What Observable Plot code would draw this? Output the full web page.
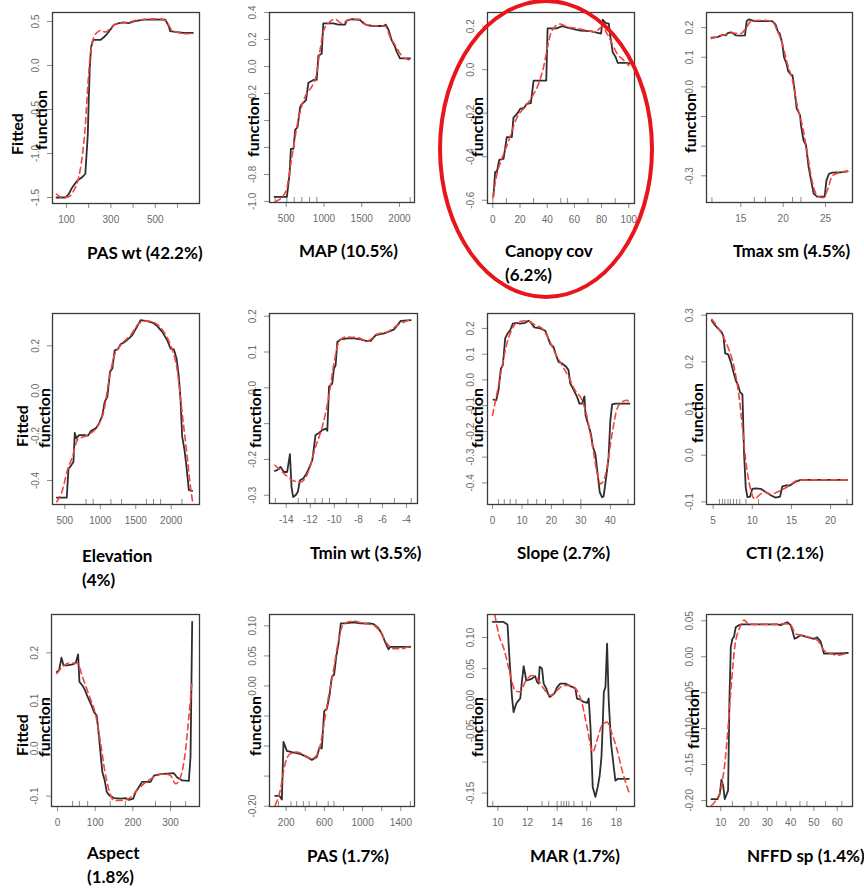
<!DOCTYPE html>
<html>
<head>
<meta charset="utf-8">
<script src="https://cdn.jsdelivr.net/npm/d3@7"></script>
<script src="https://cdn.jsdelivr.net/npm/@observablehq/plot@0.6"></script>
<style>
  html, body { margin: 0; padding: 0; background: #fff; }
  #root { position: relative; width: 864px; height: 888px; overflow: hidden; background: #fff; }
  .panel { position: absolute; }
  .xtitle { position: absolute; font: bold 17px Lato, "Open Sans", sans-serif; color: #000; white-space: nowrap; line-height: 1; transform: translateY(-50%); }
  .ytitle { position: absolute; font: bold 16px Lato, "Open Sans", sans-serif; color: #000; white-space: nowrap; line-height: 1; transform: translate(-50%, -50%) rotate(-90deg); }
  .ring { position: absolute; border: 4px solid #e8161b; border-radius: 50%; box-sizing: border-box; }
</style>
</head>
<body>
<div id="root"></div>
<script>
// ---------- DATA ----------
// PAS wt
const pasWtFit = [[55,-1.5],[95,-1.5],[110,-1.46],[125,-1.39],[148,-1.31],[170,-1.27],[185,-1.23],[196,-0.78],[200,-0.40],[205,-0.02],[211,0.21],[220,0.29],[253,0.29],[268,0.32],[283,0.36],[298,0.41],[313,0.46],[335,0.48],[358,0.49],[380,0.48],[403,0.50],[448,0.52],[508,0.52],[545,0.52],[560,0.45],[567,0.39],[597,0.38],[627,0.37],[669,0.37]];
const pasWtSmooth = [[55,-1.46],[80,-1.5],[110,-1.49],[133,-1.42],[155,-1.27],[170,-1.05],[185,-0.68],[196,-0.23],[208,0.14],[223,0.32],[240,0.38],[253,0.40],[275,0.38],[298,0.42],[320,0.47],[373,0.49],[433,0.52],[523,0.53],[553,0.49],[575,0.40],[612,0.37],[642,0.36],[669,0.37]];
const pasWtRug = [];
// MAP
const mapFit = [[346,-0.966],[509,-0.966],[544,-0.80],[562,-0.61],[597,-0.61],[619,-0.47],[650,-0.45],[685,-0.30],[707,-0.28],[763,-0.25],[794,-0.12],[860,-0.10],[904,-0.10],[926,0.08],[970,0.095],[992,0.32],[1036,0.32],[1125,0.32],[1191,0.31],[1279,0.31],[1301,0.34],[1367,0.35],[1478,0.345],[1522,0.32],[1566,0.307],[1654,0.30],[1787,0.30],[1818,0.31],[1853,0.275],[1897,0.195],[1941,0.145],[1963,0.11],[2007,0.06],[2140,0.06]];
const mapSmooth = [[354,-1.0],[443,-0.97],[509,-0.9],[553,-0.75],[597,-0.60],[650,-0.42],[707,-0.29],[772,-0.20],[839,-0.15],[904,-0.05],[948,0.12],[992,0.26],[1058,0.32],[1147,0.35],[1235,0.32],[1345,0.35],[1478,0.35],[1566,0.307],[1698,0.30],[1809,0.30],[1875,0.22],[1941,0.16],[2029,0.08],[2140,0.047]];
const mapRug = [354,509,606,707,809,906,2142];
// Canopy cov
const canopyFit = [[0.5,-0.58],[1.7,-0.47],[3,-0.47],[4.7,-0.415],[7.9,-0.41],[10.3,-0.31],[14,-0.31],[15.2,-0.22],[18.2,-0.20],[20.1,-0.18],[23,-0.175],[25,-0.157],[28,-0.154],[30,-0.05],[34.9,-0.05],[39.3,-0.05],[40.3,0.19],[47,0.19],[50.9,0.20],[57,0.19],[64.4,0.18],[71.7,0.177],[79.6,0.166],[80.8,0.23],[82.8,0.215],[85.3,0.212],[86.5,0.15],[88.2,0.08],[90.2,0.06],[91.9,0.031],[98.8,0.031],[100.7,0.028]];
const canopySmooth = [[0,-0.59],[3,-0.48],[6.6,-0.41],[11.5,-0.33],[17.7,-0.22],[23.8,-0.17],[28.7,-0.126],[33.7,-0.064],[37.3,0.012],[40.3,0.105],[43.5,0.18],[49.6,0.21],[54.5,0.197],[62,0.19],[69.3,0.18],[75.4,0.174],[80.3,0.197],[84,0.166],[87.7,0.12],[91.4,0.074],[96.3,0.043],[100,0.02]];
const canopyRug = [0,10,30,50,55,70,90];
// Tmax sm
const tmaxFit = [[11.55,0.166],[12.26,0.168],[12.85,0.176],[13.24,0.174],[13.5,0.182],[13.9,0.184],[14.4,0.174],[15,0.173],[15.5,0.174],[15.7,0.222],[16,0.228],[16.6,0.222],[17.7,0.222],[18.7,0.222],[19.1,0.211],[19.4,0.185],[19.6,0.18],[19.9,0.146],[20.1,0.10],[20.4,0.078],[20.6,0.053],[20.9,0.042],[21.1,0.039],[21.3,0.0],[21.6,-0.073],[22.0,-0.096],[22.1,-0.13],[22.4,-0.18],[22.7,-0.197],[23.0,-0.27],[23.3,-0.316],[23.6,-0.36],[24.0,-0.37],[24.9,-0.37],[25.1,-0.316],[25.4,-0.293],[25.8,-0.289],[26.8,-0.288],[27.6,-0.285]];
const tmaxSmooth = [[11.55,0.163],[12.85,0.174],[13.9,0.182],[15,0.18],[15.7,0.202],[16.2,0.222],[17.7,0.225],[18.7,0.221],[19.3,0.19],[19.9,0.146],[20.5,0.078],[21.1,0.022],[21.7,-0.068],[22.3,-0.135],[22.8,-0.214],[23.4,-0.316],[24.0,-0.366],[24.7,-0.374],[25.2,-0.35],[25.8,-0.30],[26.8,-0.288],[27.6,-0.284]];
const tmaxRug = [11.6,16.6,17.9,21.1,22.1];
// Elevation
const elevFit = [[388,-0.476],[528,-0.476],[552,-0.347],[584,-0.336],[622,-0.317],[641,-0.188],[664,-0.213],[701,-0.198],[772,-0.198],[828,-0.20],[866,-0.18],[936,-0.168],[983,-0.146],[1030,-0.109],[1062,-0.05],[1100,-0.027],[1137,0.084],[1170,0.099],[1203,0.18],[1250,0.185],[1287,0.207],[1334,0.215],[1404,0.233],[1451,0.248],[1512,0.282],[1568,0.314],[1662,0.31],[1746,0.302],[1803,0.288],[1873,0.262],[1943,0.225],[1990,0.188],[2037,0.184],[2075,0.144],[2107,0.062],[2131,-0.042],[2154,-0.205],[2187,-0.265],[2215,-0.34],[2248,-0.443],[2295,-0.446]];
const elevSmooth = [[388,-0.495],[467,-0.443],[537,-0.354],[608,-0.295],[678,-0.22],[819,-0.198],[959,-0.16],[1053,-0.087],[1123,0.047],[1193,0.151],[1287,0.203],[1428,0.248],[1545,0.30],[1662,0.311],[1779,0.30],[1896,0.262],[1990,0.203],[2084,0.092],[2154,-0.10],[2225,-0.295],[2271,-0.428],[2304,-0.50]];
const elevRug = [800,900,1150,1300,1650,1750,1850,2150];
// Tmin wt
const tminFit = [[-14.94,-0.232],[-14.75,-0.23],[-14.47,-0.221],[-14.19,-0.235],[-13.92,-0.235],[-13.69,-0.185],[-13.56,-0.277],[-13.42,-0.305],[-13.22,-0.30],[-13.03,-0.29],[-12.86,-0.258],[-12.58,-0.253],[-12.31,-0.239],[-12.11,-0.225],[-11.83,-0.202],[-11.56,-0.132],[-11.28,-0.126],[-11.0,-0.118],[-10.72,-0.114],[-10.58,-0.12],[-10.44,0.003],[-10.17,0.012],[-10.03,0.054],[-9.89,0.063],[-9.75,0.128],[-9.47,0.135],[-8.92,0.138],[-8.36,0.138],[-7.81,0.135],[-7.39,0.131],[-6.97,0.131],[-6.56,0.147],[-5.86,0.152],[-5.31,0.159],[-5.03,0.163],[-4.75,0.175],[-4.47,0.187],[-3.64,0.189]];
const tminSmooth = [[-14.94,-0.216],[-14.19,-0.239],[-13.5,-0.258],[-12.81,-0.263],[-12.11,-0.23],[-11.56,-0.165],[-11.0,-0.109],[-10.44,-0.021],[-10.03,0.068],[-9.61,0.128],[-9.06,0.142],[-8.08,0.14],[-7.25,0.131],[-6.42,0.15],[-5.58,0.156],[-4.75,0.175],[-3.64,0.191]];
const tminRug = [-14.9,-13.0,-12.3,-11.6,-11.0,-10.4,-9.0,-7.0,-5.0,-3.6];
// Slope
const slopeFit = [[0.34,-0.077],[1.25,-0.079],[2.04,-0.04],[2.83,0.044],[3.5,0.057],[4.3,0.161],[5.1,0.18],[6.0,0.193],[6.9,0.219],[8.0,0.222],[9.4,0.219],[11.1,0.222],[12.2,0.23],[12.8,0.226],[14.2,0.204],[16.2,0.20],[17.9,0.191],[18.7,0.168],[19.6,0.139],[20.7,0.129],[21.6,0.096],[22.4,0.07],[23.6,0.064],[25.0,0.051],[25.8,0.038],[26.4,-0.014],[27.5,-0.038],[28.7,-0.066],[29.5,-0.092],[30.4,-0.092],[31.2,-0.064],[31.6,-0.138],[32.6,-0.177],[33.4,-0.209],[34.1,-0.261],[34.9,-0.287],[35.7,-0.365],[36.4,-0.436],[37.2,-0.456],[37.7,-0.453],[38.6,-0.378],[39.4,-0.30],[40.0,-0.157],[40.6,-0.095],[41.7,-0.092],[44.0,-0.092],[46.5,-0.092]];
const slopeSmooth = [[0,-0.138],[1.5,-0.053],[3.2,0.05],[4.9,0.142],[6.6,0.196],[8.8,0.226],[11.7,0.23],[14.5,0.213],[16.8,0.2],[19.0,0.161],[21.3,0.103],[23.6,0.057],[25.8,0.012],[28.0,-0.04],[30.4,-0.079],[32.1,-0.144],[33.8,-0.248],[35.6,-0.365],[36.6,-0.404],[37.7,-0.391],[38.9,-0.339],[40.6,-0.209],[42.3,-0.112],[44.0,-0.086],[45.7,-0.079],[46.5,-0.092]];
const slopeRug = [2,4,6,8,12,15,18,24,30,46];
// CTI
const ctiFit = [[4.83,0.288],[5.21,0.279],[5.64,0.271],[6.06,0.264],[6.32,0.255],[6.53,0.218],[6.91,0.216],[7.25,0.20],[7.59,0.178],[7.89,0.16],[8.19,0.15],[8.44,0.135],[8.74,0.13],[8.95,0.003],[9.16,-0.069],[9.38,-0.09],[9.72,-0.089],[10.0,-0.072],[10.44,-0.071],[11.08,-0.072],[11.71,-0.079],[12.35,-0.086],[12.99,-0.091],[13.54,-0.089],[13.84,-0.067],[14.26,-0.065],[14.82,-0.065],[15.41,-0.058],[16.17,-0.053],[17.87,-0.053],[22.12,-0.053]];
const ctiSmooth = [[4.83,0.291],[5.55,0.275],[6.4,0.25],[7.04,0.225],[7.76,0.182],[8.31,0.125],[8.74,0.06],[9.16,-0.011],[9.72,-0.069],[10.31,-0.094],[10.86,-0.086],[11.59,-0.079],[12.44,-0.084],[13.2,-0.079],[14.05,-0.072],[14.9,-0.063],[15.75,-0.054],[17.0,-0.053],[22.12,-0.053]];
const ctiRug = [5.8,6.2,6.5,6.9,7.2,7.6,8.0,8.4,9.2,10.8,22.1];
// Aspect
const aspectFit = [[-1.8,0.160],[4.4,0.164],[10.6,0.190],[15.9,0.174],[26.5,0.174],[39.7,0.176],[48.5,0.179],[54.7,0.197],[58.2,0.139],[66.2,0.132],[72.4,0.123],[79.4,0.109],[88.2,0.094],[97.1,0.076],[104.1,0.069],[110.3,0.024],[114.7,-0.015],[119.1,-0.05],[125.3,-0.067],[130.6,-0.091],[136.8,-0.098],[150,-0.104],[167.6,-0.105],[180.9,-0.104],[189.7,-0.108],[201.2,-0.105],[207.4,-0.091],[213.5,-0.084],[225,-0.07],[238.2,-0.07],[247,-0.07],[255.9,-0.057],[273.5,-0.054],[291.2,-0.053],[308.8,-0.052],[317.6,-0.061],[330.9,-0.067],[348.5,-0.068],[353,-0.018],[357.4,0.265]];
const aspectSmooth = [[-1.8,0.157],[13.2,0.171],[30.9,0.179],[52.9,0.178],[66.2,0.15],[83.8,0.111],[101.5,0.069],[114.7,0.01],[125.3,-0.046],[136.8,-0.088],[150,-0.109],[167.6,-0.109],[189.7,-0.105],[207.4,-0.091],[229.4,-0.074],[255.9,-0.06],[282.4,-0.053],[300,-0.057],[313.2,-0.074],[326.5,-0.06],[339.7,-0.004],[348.5,0.066],[357.4,0.143]];
const aspectRug = [40,58,80,140,180,260,300,340];
// PAS
const pasFit = [[85,-0.183],[130,-0.183],[155,-0.189],[172,-0.093],[207,-0.108],[259,-0.11],[346,-0.113],[416,-0.118],[469,-0.123],[521,-0.118],[549,-0.102],[573,-0.104],[598,-0.042],[626,-0.038],[653,-0.016],[678,0.015],[702,0.019],[723,0.048],[748,0.071],[772,0.104],[817,0.104],[905,0.106],[975,0.104],[1079,0.104],[1114,0.103],[1166,0.096],[1201,0.087],[1236,0.073],[1271,0.061],[1288,0.065],[1341,0.065],[1498,0.065]];
const pasSmooth = [[85,-0.199],[137,-0.174],[190,-0.129],[242,-0.113],[312,-0.11],[399,-0.116],[469,-0.121],[538,-0.11],[591,-0.068],[643,-0.018],[695,0.026],[748,0.076],[800,0.103],[905,0.108],[1010,0.104],[1114,0.101],[1184,0.09],[1253,0.071],[1323,0.062],[1410,0.062],[1498,0.068]];
const pasRug = [120,250,310,380,440,520,640,700,1500];
// MAR
const marFit = [[9.66,0.125],[9.93,0.125],[10.38,0.125],[10.65,0.121],[10.79,0.064],[10.95,0.0045],[11.06,-0.02],[11.24,-0.006],[11.4,-0.001],[11.51,0.002],[11.62,0.029],[11.74,0.054],[11.92,0.031],[12.07,0.032],[12.3,0.034],[12.52,0.038],[12.64,0.029],[12.75,0.026],[12.82,0.053],[12.98,0.05],[13.09,0.026],[13.27,0.018],[13.36,0.011],[13.49,0.0045],[13.65,0.007],[13.81,0.01],[13.99,0.02],[14.21,0.026],[14.55,0.026],[14.89,0.022],[15.23,0.018],[15.34,0.0018],[15.57,0.0002],[15.79,-0.0035],[16.02,-0.005],[16.13,0.002],[16.25,-0.044],[16.4,-0.14],[16.58,-0.156],[16.74,-0.14],[16.87,-0.122],[16.99,-0.092],[17.08,-0.038],[17.15,0.0125],[17.26,0.0206],[17.37,0.09],[17.48,-0.001],[17.64,-0.071],[17.82,-0.108],[17.93,-0.13],[18.09,-0.127],[18.84,-0.127]];
const marSmooth = [[9.8,0.136],[10.05,0.106],[10.43,0.08],[10.79,0.045],[11.17,0.015],[11.51,0.0125],[11.85,0.029],[12.3,0.039],[12.64,0.034],[13.09,0.018],[13.54,0.007],[13.99,0.015],[14.44,0.023],[14.89,0.023],[15.34,0.015],[15.68,-0.006],[16.02,-0.044],[16.4,-0.084],[16.69,-0.065],[17.03,-0.041],[17.37,-0.036],[17.71,-0.055],[18.05,-0.081],[18.39,-0.114],[18.84,-0.148]];
const marRug = [9.66,12.98,13.43,14.0,14.27,14.45,14.63,14.79,15.13,15.69,16.25];
// NFFD sp
const nffdFit = [[6.0,-0.198],[8.57,-0.198],[9.57,-0.191],[10.29,-0.171],[11.0,-0.179],[11.7,-0.198],[12.57,-0.191],[13.14,-0.186],[13.7,-0.061],[14.3,0.0138],[15.0,0.025],[15.7,0.028],[16.4,0.041],[17.86,0.044],[19.3,0.045],[22.9,0.045],[30,0.045],[34.3,0.045],[35.7,0.044],[37.1,0.046],[38.6,0.048],[40,0.044],[40.7,0.037],[41.7,0.025],[42.9,0.027],[44.3,0.03],[46.4,0.028],[50,0.025],[51.4,0.027],[52.9,0.021],[54.3,0.0045],[55.7,0.0045],[61.4,0.0045],[64.6,0.0054]];
const nffdSmooth = [[6,-0.207],[7.86,-0.2],[10,-0.184],[11.7,-0.149],[13.14,-0.098],[14.57,-0.037],[16,0.0138],[17.86,0.038],[20,0.051],[22.14,0.045],[27.1,0.045],[32.9,0.045],[37.1,0.046],[40,0.044],[42.1,0.032],[44.3,0.03],[47.1,0.028],[51.4,0.023],[54.3,0.009],[57.1,0.0045],[60,0.0022],[64.6,0.0054]];
const nffdRug = [15,23,26,34,38,44,47,55,62];

// Axis titles (with the share of importance)
const titles = [["PAS wt (42.2%)"],["MAP (10.5%)"],["Canopy cov","(6.2%)"],["Tmax sm (4.5%)"],
                ["Elevation","(4%)"],["Tmin wt (3.5%)"],["Slope (2.7%)"],["CTI (2.1%)"],
                ["Aspect","(1.8%)"],["PAS (1.7%)"],["MAR (1.7%)"],["NFFD sp (1.4%)"]];

// Tick values (all ticks) and the tick labels that are visible
const xTicks = [[100,200,300,400,500,600],[500,1000,1500,2000],[0,20,40,60,80,100],[15,20,25],
                [500,1000,1500,2000],[-14,-12,-10,-8,-6,-4],[0,10,20,30,40],[5,10,15,20],
                [0,100,200,300],[200,400,600,800,1000,1200,1400],[10,12,14,16,18],[10,20,30,40,50,60]];
const xLabels = [[100,300,500],[500,1000,1500,2000],[0,20,40,60,80,100],[15,20,25],
                 [500,1000,1500,2000],[-14,-12,-10,-8,-6,-4],[0,10,20,30,40],[5,10,15,20],
                 [0,100,200,300],[200,600,1000,1400],[10,12,14,16,18],[10,20,30,40,50,60]];
const yTicks = [[-1.5,-1,-0.5,0,0.5],[-1,-0.8,-0.6,-0.4,-0.2,0,0.2,0.4],[-0.6,-0.4,-0.2,0,0.2],[-0.3,-0.2,-0.1,0,0.1,0.2],
                [-0.4,-0.2,0,0.2],[-0.3,-0.2,-0.1,0,0.1,0.2],[-0.4,-0.3,-0.2,-0.1,0,0.1,0.2],[-0.1,0,0.1,0.2,0.3],
                [-0.1,0,0.1,0.2],[-0.2,-0.15,-0.1,-0.05,0,0.05,0.1],[-0.15,-0.1,-0.05,0,0.05,0.1],[-0.2,-0.15,-0.1,-0.05,0,0.05]];
const yLabels = [[-1.5,-1,-0.5,0,0.5],[-1,-0.8,-0.2,0,0.2,0.4],[-0.6,-0.4,-0.2,0,0.2],[-0.3,0,0.1,0.2],
                 [-0.4,-0.2,0,0.2],[-0.3,-0.2,0,0.1,0.2],[-0.4,-0.3,-0.2,-0.1,0,0.1,0.2],[-0.1,0,0.1,0.2,0.3],
                 [-0.1,0,0.1,0.2],[-0.2,0,0.05,0.1],[-0.15,-0.05,0,0.05,0.1],[-0.2,-0.15,-0.1,-0.05,0,0.05]];
const yDecimals = [1,1,1,1,1,1,1,1,1,2,2,2];

// ---------- LAYOUT (positions in the page) ----------
const series = [
  [pasWtFit, pasWtSmooth, pasWtRug], [mapFit, mapSmooth, mapRug], [canopyFit, canopySmooth, canopyRug], [tmaxFit, tmaxSmooth, tmaxRug],
  [elevFit, elevSmooth, elevRug], [tminFit, tminSmooth, tminRug], [slopeFit, slopeSmooth, slopeRug], [ctiFit, ctiSmooth, ctiRug],
  [aspectFit, aspectSmooth, aspectRug], [pasFit, pasSmooth, pasRug], [marFit, marSmooth, marRug], [nffdFit, nffdSmooth, nffdRug]
];
const layout = [
  {frame:[52,12,199,203],  xd:[37,699],      yd:[-1.568,0.602], title:[87,252],  yt:[[17,134,"Fitted"],[41,120,"function"]]},
  {frame:[269,12,414,202], xd:[279,2199],    yd:[-1.008,0.40],  title:[299,250], yt:[[253,127,"function"]]},
  {frame:[487,12,634,203], xd:[-3.9,104.2],  yd:[-0.615,0.263], title:[505,250], yt:[[477,127,"function"]]},
  {frame:[706,12,852,202], xd:[10.96,28.18], yd:[-0.39,0.251],  title:[733,250], yt:[[690,123,"function"]]},
  {frame:[52,313,199,504], xd:[327,2398],    yd:[-0.507,0.344], title:[82,555],  yt:[[22,426,"Fitted"],[44,418,"function"]]},
  {frame:[269,313,417,503],xd:[-15.39,-3.08],yd:[-0.323,0.2075],title:[310,552], yt:[[255,418,"function"]]},
  {frame:[487,313,634,504],xd:[-1.7,48.2],   yd:[-0.484,0.258], title:[517,552], yt:[[477,418,"function"]]},
  {frame:[706,313,852,504],xd:[4.15,22.8],   yd:[-0.1057,0.3036],title:[746,552],yt:[[697,413,"function"]]},
  {frame:[51,614,199,806], xd:[-15.9,376.8], yd:[-0.1217,0.2804],title:[87,852], yt:[[22,735,"Fitted"],[44,727,"function"]]},
  {frame:[269,614,414,806],xd:[25.6,1543],   yd:[-0.2006,0.1189],title:[307,855],yt:[[255,726,"function"]]},
  {frame:[487,614,634,806],xd:[9.3,19.22],   yd:[-0.1715,0.137],title:[530,855], yt:[[477,727,"function"]]},
  {frame:[706,614,852,806],xd:[3.86,66.57],  yd:[-0.2084,0.0588],title:[747,855],yt:[[693,719,"function"]]}
];

const root = document.getElementById("root");
const mL = 46, mR = 6, mT = 6, mB = 32;
const tickFont = "'Liberation Sans', Arial, sans-serif";

layout.forEach((L, i) => {
  const [fl, ft, fr, fb] = L.frame;
  const fw = fr - fl, fh = fb - ft;
  const [fit, smooth, rug] = series[i];
  const xShown = new Set(xLabels[i]);
  const yShown = new Set(yLabels[i].map(v => v.toFixed(yDecimals[i])));
  const chart = Plot.plot({
    width: fw + mL + mR, height: fh + mT + mB,
    marginLeft: mL, marginRight: mR, marginTop: mT, marginBottom: mB,
    x: {domain: L.xd}, y: {domain: L.yd},
    style: {background: "transparent", overflow: "visible", fontFamily: tickFont},
    marks: [
      Plot.axisX({ticks: xTicks[i], tickSize: 5, tickPadding: 7, fontSize: 10, stroke: "#8a8a8a", fill: "#6a6a6a",
                  tickFormat: d => xShown.has(d) ? String(d) : "", label: null}),
      Plot.axisY({ticks: yTicks[i], tickSize: 5, tickPadding: 9, tickRotate: -90, fontSize: 10, stroke: "#8a8a8a", fill: "#6a6a6a",
                  tickFormat: d => { const s = d.toFixed(yDecimals[i]); return yShown.has(s) ? s : ""; }, label: null}),
      Plot.tickX(rug, {x: d => d, insetTop: fh - 5, stroke: "#8a8a8a", strokeWidth: 1}),
      Plot.line(fit, {x: d => d[0], y: d => d[1], stroke: "#2e2e2e", strokeWidth: 1.8, strokeLinejoin: "round"}),
      Plot.line(smooth, {x: d => d[0], y: d => d[1], stroke: "#f2453d", strokeWidth: 1.6, strokeDasharray: "6,4", curve: "monotone-x"}),
      Plot.frame({stroke: "#3a3a3a", strokeWidth: 1.3})
    ]
  });
  chart.classList.add("panel");
  chart.style.left = (fl - mL) + "px";
  chart.style.top = (ft - mT) + "px";
  root.appendChild(chart);

  titles[i].forEach((t, k) => {
    const d = document.createElement("div");
    d.className = "xtitle";
    d.textContent = t;
    d.style.left = L.title[0] + "px";
    d.style.top = (L.title[1] + k * 24) + "px";
    root.appendChild(d);
  });
  L.yt.forEach(([cx, cy, t]) => {
    const d = document.createElement("div");
    d.className = "ytitle";
    d.textContent = t;
    d.style.left = cx + "px";
    d.style.top = cy + "px";
    root.appendChild(d);
  });
});

// red ellipse highlighting the Canopy cov panel
const ring = document.createElement("div");
ring.className = "ring";
Object.assign(ring.style, {left: "438px", top: "-1px", width: "216px", height: "300px"});
root.appendChild(ring);
</script>
</body>
</html>
